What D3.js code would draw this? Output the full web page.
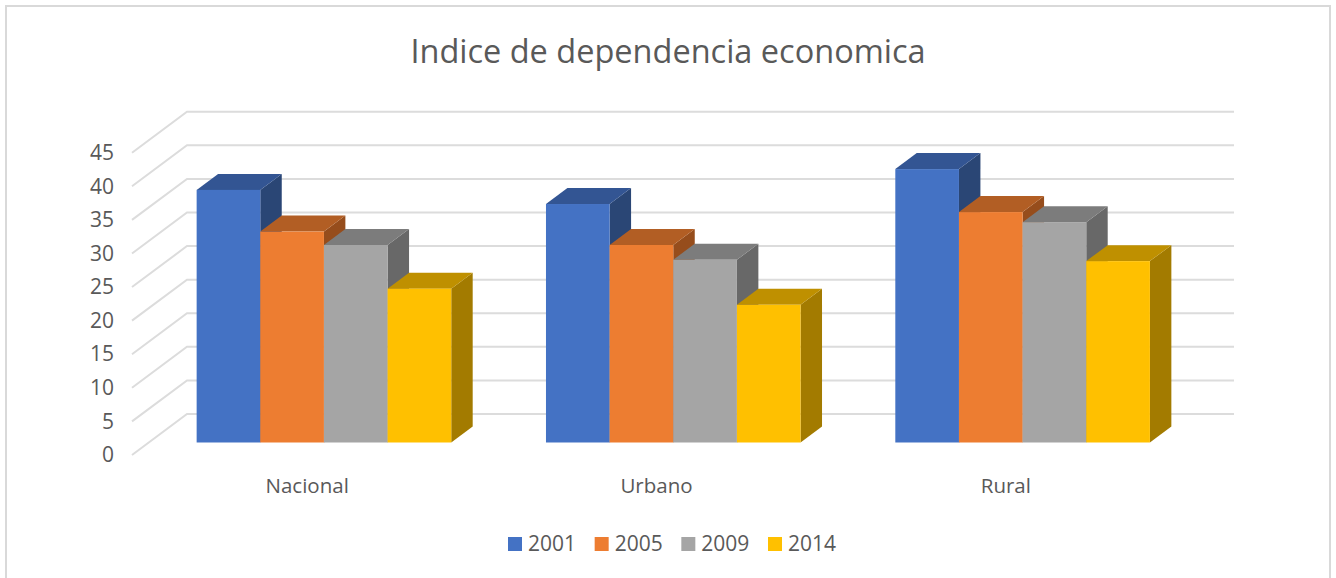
<!DOCTYPE html>
<html>
<head>
<meta charset="utf-8">
<script src="https://cdnjs.cloudflare.com/ajax/libs/d3/7.8.5/d3.min.js"></script>
<style>
  html, body { margin: 0; padding: 0; background: #fff; overflow: hidden; }
  text { font-family: "Open Sans", sans-serif; fill: #595959; }
</style>
</head>
<body>
<svg id="chart" width="1336" height="578"></svg>
<script>
const titleText = "Indice de dependencia economica";
const categories = ["Nacional", "Urbano", "Rural"];
const years = ["2001", "2005", "2009", "2014"];
const v2001 = [37.6, 35.5, 40.7];
const v2005 = [31.4, 29.4, 34.3];
const v2009 = [29.4, 27.2, 32.8];
const v2014 = [22.9, 20.5, 27.0];
const yTicks = [0, 5, 10, 15, 20, 25, 30, 35, 40, 45];

const seriesValues = [v2001, v2005, v2009, v2014];
const front = ["#4472C4", "#ED7D31", "#A5A5A5", "#FFC000"];
const top_ = ["#335593", "#B25E24", "#7C7C7C", "#BF9000"];
const side = ["#2A4675", "#964D1C", "#686868", "#A37B00"];

const svg = d3.select("#chart");

// frame
svg.append("path")
    .attr("d", "M6,578V6H1330V578")
    .attr("fill", "none")
    .attr("stroke", "#D9D9D9")
    .attr("stroke-width", 2);

svg.append("text")
    .attr("x", 668)
    .attr("y", 63)
    .attr("text-anchor", "middle")
    .style("font-size", "32.5px")
    .text(titleText);

// oblique projection: depth 0 is the front of the floor, 1 the back wall
const depthX = 55, depthY = 41;
const gridLeft = 132, gridRight = 1179;
const y = d3.scaleLinear().domain([0, 45]).range([455, 152.7]);
const x0 = d3.scaleBand().domain(categories).range([132.5, 1180.5]);
const x1 = d3.scaleBand().domain(years).range([0, 254.6]);
const barStart = (x0.bandwidth() - x1.range()[1]) / 2;
const near = 0.305, far = 0.695;

function px(x, d) { return x + d * depthX; }
function py(v, d) { return y(v) - d * depthY; }
function poly(points) { return points.map(p => p.join(",")).join(" "); }

// gridlines
const grid = svg.append("g")
    .attr("fill", "none")
    .attr("stroke", "#DCDCDC")
    .attr("stroke-width", 2);
yTicks.forEach(t => {
    grid.append("path")
        .attr("d", d3.line()([
            [px(gridLeft, 0), py(t, 0)],
            [px(gridLeft, 1), py(t, 1)],
            [px(gridRight, 1), py(t, 1)]
        ]));
});

// y axis
const yAxis = svg.append("g")
    .attr("transform", "translate(114,0)")
    .call(d3.axisLeft(y).tickValues(yTicks).tickSize(0).tickPadding(0));
yAxis.select(".domain").remove();
yAxis.selectAll("text").style("font-size", "21px");

// x axis
const xAxis = svg.append("g")
    .attr("transform", "translate(0,478)")
    .call(d3.axisBottom(x0).tickSize(0).tickPadding(0));
xAxis.select(".domain").remove();
xAxis.selectAll("text").style("font-size", "20.5px");

// bars, left to right so each front face covers the side of the previous one
categories.forEach((cat, c) => {
    const g = svg.append("g").attr("class", "group");
    years.forEach((yr, s) => {
        const v = seriesValues[s][c];
        const xl = px(x0(cat) + barStart + x1(yr), near);
        const xr = xl + x1.bandwidth();
        const dd = far - near;
        const yb = py(0, near), yt = py(v, near);
        g.append("polygon")
            .attr("fill", side[s])
            .attr("points", poly([[xr, yt], [xr + dd * depthX, yt - dd * depthY],
                [xr + dd * depthX, yb - dd * depthY], [xr, yb]]));
        g.append("polygon")
            .attr("fill", top_[s])
            .attr("points", poly([[xl, yt], [xl + dd * depthX, yt - dd * depthY],
                [xr + dd * depthX, yt - dd * depthY], [xr, yt]]));
        g.append("rect")
            .attr("x", xl)
            .attr("y", yt)
            .attr("width", x1.bandwidth())
            .attr("height", yb - yt)
            .attr("fill", front[s]);
    });
});

// legend
const legendX = d3.scalePoint().domain(years).range([508, 768]);
const legend = svg.append("g");
years.forEach((yr, i) => {
    legend.append("rect")
        .attr("x", legendX(yr))
        .attr("y", 537)
        .attr("width", 14)
        .attr("height", 14)
        .attr("fill", front[i]);
    legend.append("text")
        .attr("x", legendX(yr) + 20)
        .attr("y", 551)
        .style("font-size", "21px")
        .text(yr);
});
</script>
</body>
</html>
